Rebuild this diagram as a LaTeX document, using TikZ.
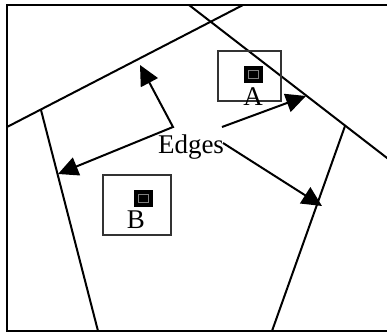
\documentclass[tikz,border=0pt]{standalone}
\usepackage{fontspec}
\setmainfont{Liberation Serif}
\usetikzlibrary{arrows.meta}
\begin{document}
\begin{tikzpicture}[x=1pt,y=-1pt,
  wall/.style={line width=2pt, black},
  cell/.style={draw=black!80, line width=1.5pt, inner sep=0pt},
  site/.style={fill=black, minimum width=19pt, minimum height=17pt, inner sep=0pt},
  core/.style={draw=black!50, line width=0.6pt, minimum width=10pt, minimum height=8pt, inner sep=0pt},
  lbl/.style={font=\fontsize{27}{27}\selectfont, inner sep=0pt, anchor=base},
  head/.tip={Triangle[length=20pt,width=19pt]},
  pointer/.style={line width=2pt, -head},
]
\useasboundingbox (0,0) rectangle (387,336);
\clip (0,0) rectangle (387,336);

% outer frame (its right side lies beyond the page)
\draw[wall] (400,5) -- (7,5) -- (7,331) -- (400,331);

% cell boundaries
\coordinate (p1) at (7,127);
\coordinate (p2) at (243,5);
\coordinate (q1) at (189,5);
\coordinate (q2) at (400,168);
\coordinate (j1) at (41,110);
\coordinate (j1b) at (98,331);
\coordinate (j2) at (345,126);
\coordinate (j2b) at (272,331);
\draw[wall] (p1) -- (p2);
\draw[wall] (q1) -- (q2);
\draw[wall] (j1) -- (j1b);
\draw[wall] (j2) -- (j2b);

% site A
\node[cell, minimum width=63pt, minimum height=50pt] (boxA) at (249.5,76) {};
\node[site] (siteA) at (253.5,74.5) {};
\node[core] (coreA) at (siteA) {};
\node[lbl] (A) at (253,106) {A};

% site B
\node[cell, minimum width=68pt, minimum height=60pt] (boxB) at (137,205) {};
\node[site] (siteB) at (143.5,198.5) {};
\node[core] (coreB) at (siteB) {};
\node[lbl] (B) at (136,228) {B};

% label and its arrows
\node[lbl] (edges) at (191,154) {Edges};
\coordinate (bend) at (173,127);
\coordinate (t1) at (140,65);
\coordinate (t2) at (58,174);
\coordinate (s3) at (222,127);
\coordinate (t3) at (306,96);
\coordinate (s4) at (223,143);
\coordinate (t4) at (322,206);
\draw[line width=2pt, head-head] (t1) -- (bend) -- (t2);
\draw[pointer] (s3) -- (t3);
\draw[pointer] (s4) -- (t4);
\end{tikzpicture}
\end{document}
